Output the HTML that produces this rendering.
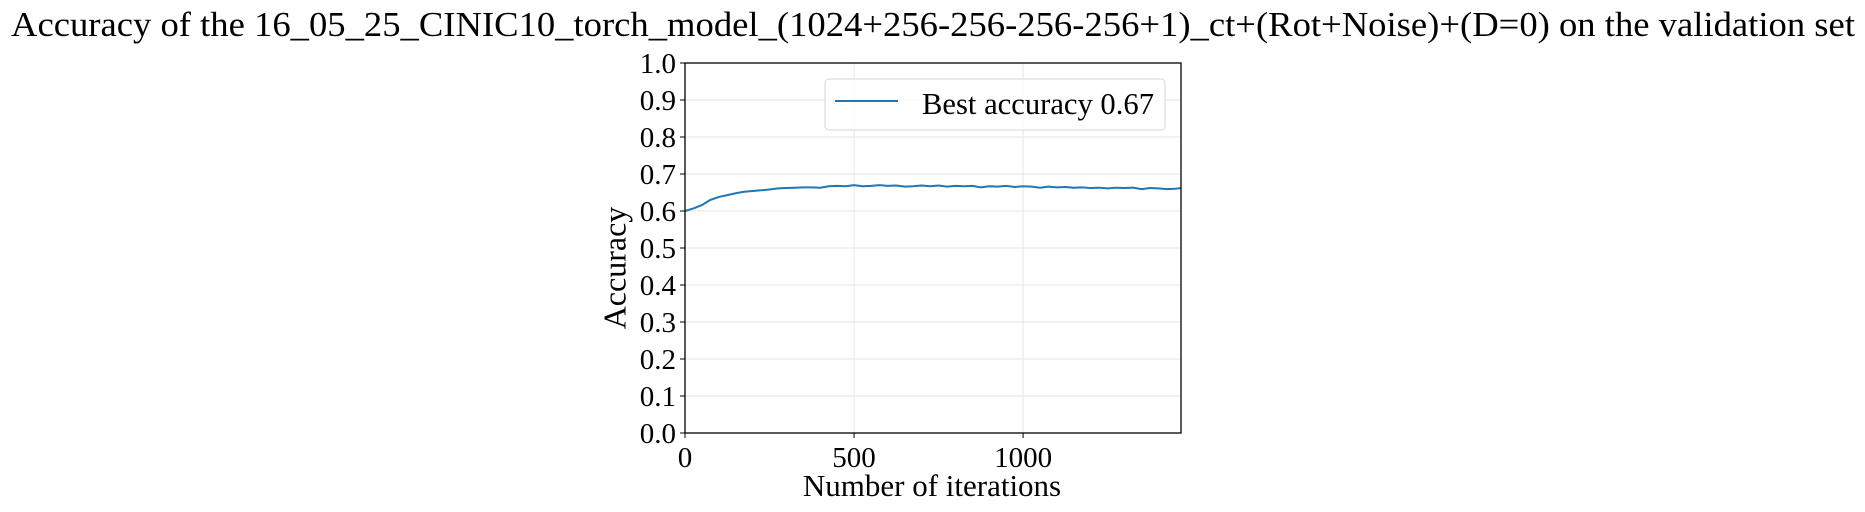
<!DOCTYPE html>
<html><head><meta charset="utf-8"><style>
html,body{margin:0;padding:0;background:#fff;}
svg{display:block;font-family:"Liberation Serif",serif;}
</style></head><body>
<svg id="chart" width="1865" height="512" viewBox="0 0 1865 512">
<text x="11" y="36" font-size="35" textLength="1844" lengthAdjust="spacingAndGlyphs">Accuracy of the 16_05_25_CINIC10_torch_model_(1024+256-256-256-256+1)_ct+(Rot+Noise)+(D=0) on the validation set</text>
<g id="grid"></g>
<g id="ticks"></g>
<polyline id="line" fill="none" stroke="#1f77b4" stroke-width="2"/>
<rect x="685" y="63" width="496" height="370" fill="none" stroke="#000" stroke-width="1.3"/>
<text x="618" y="268" font-size="32" text-anchor="middle" transform="rotate(-90 618 268)" dominant-baseline="middle">Accuracy</text>
<text x="932" y="496" font-size="31" text-anchor="middle">Number of iterations</text>
<g>
<rect x="825" y="79" width="340" height="51" rx="4" fill="#fff" fill-opacity="0.8" stroke="#d6d6d6"/>
<line x1="835" y1="101" x2="898" y2="101" stroke="#1f77b4" stroke-width="2"/>
<text x="922" y="114" font-size="31" textLength="232" lengthAdjust="spacingAndGlyphs">Best accuracy 0.67</text>
</g>
</svg>
<script>
const iterations=[0,25,50,75,100,125,150,175,200,225,250,275,300,325,350,375,400,425,450,475,500,525,550,575,600,625,650,675,700,725,750,775,800,825,850,875,900,925,950,975,1000,1025,1050,1075,1100,1125,1150,1175,1200,1225,1250,1275,1300,1325,1350,1375,1400,1425,1450,1467];
const accuracy=[0.600,0.607,0.616,0.630,0.638,0.643,0.648,0.652,0.654,0.656,0.658,0.661,0.662,0.663,0.664,0.664,0.663,0.667,0.668,0.667,0.670,0.667,0.668,0.670,0.668,0.669,0.666,0.667,0.669,0.667,0.669,0.666,0.668,0.667,0.668,0.664,0.667,0.666,0.668,0.665,0.667,0.666,0.663,0.666,0.664,0.665,0.663,0.664,0.662,0.663,0.661,0.663,0.662,0.663,0.659,0.662,0.661,0.659,0.660,0.662];
const yTicks=[0,0.1,0.2,0.3,0.4,0.5,0.6,0.7,0.8,0.9,1.0];
const xTicks=[0,500,1000];
const X0=685,X1=1181,Y0=433,Y1=63,XMAX=1467;
const sx=v=>X0+(v/XMAX)*(X1-X0);
const sy=v=>Y0-(v)*(Y0-Y1);
const NS="http://www.w3.org/2000/svg";
const grid=document.getElementById('grid'),ticks=document.getElementById('ticks');
function mk(t,a,p){const e=document.createElementNS(NS,t);for(const k in a)e.setAttribute(k,a[k]);p.appendChild(e);return e;}
yTicks.forEach(v=>{
 const g=mk('line',{x1:X0,x2:X1,y1:sy(v),y2:sy(v),stroke:'#e6e6e6','stroke-width':1},grid);
 
 
 const t=mk('line',{x1:X0-5,x2:X0,y1:sy(v),y2:sy(v),stroke:'#000'},ticks);
 
 
 const l=mk('text',{x:X0-9,y:sy(v)+10,'font-size':29,'text-anchor':'end'},ticks);
 l.textContent=v.toFixed(1);
 
 
});
xTicks.forEach(v=>{
 const g=mk('line',{x1:sx(v),x2:sx(v),y1:Y0,y2:Y1,stroke:'#e6e6e6','stroke-width':1},grid);
 
 
 const t=mk('line',{x1:sx(v),x2:sx(v),y1:Y0,y2:Y0+5,stroke:'#000'},ticks);
 
 
 const l=mk('text',{x:sx(v),y:Y0+34,'font-size':29,'text-anchor':'middle'},ticks);
 l.textContent=v;
 
 
});
document.getElementById('line').setAttribute('points',iterations.map((it,i)=>sx(it)+','+sy(accuracy[i])).join(' '));
</script>
</body></html>
